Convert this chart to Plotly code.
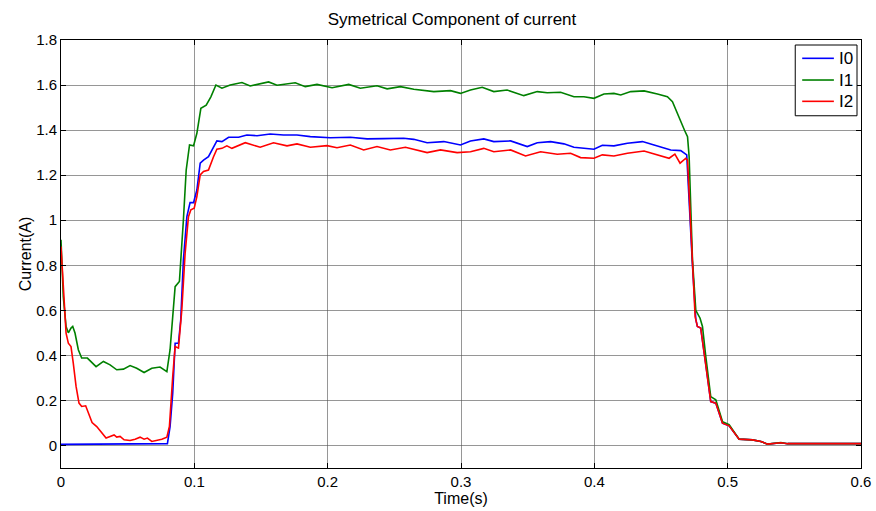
import plotly.graph_objects as go

# Sampled time (s) and current (A) for each symmetrical component
t_i0 = [0.0, 0.02, 0.04, 0.06, 0.0798, 0.0818, 0.0838, 0.0856, 0.0881, 0.0898, 0.0918,
        0.0944, 0.0968, 0.0994, 0.1019, 0.1044, 0.1069, 0.1106, 0.1144, 0.1169, 0.1207,
        0.1257, 0.1332, 0.1394, 0.147, 0.1569, 0.1669, 0.177, 0.187, 0.202, 0.217,
        0.2296, 0.242, 0.257, 0.2646, 0.2746, 0.2871, 0.2996, 0.3071, 0.3171, 0.3246,
        0.3372, 0.3497, 0.3572, 0.3672, 0.3772, 0.3847, 0.3997, 0.406, 0.4147, 0.4248,
        0.4361, 0.4448, 0.4573, 0.4648, 0.4693, 0.4736, 0.4761, 0.4773, 0.4798, 0.4836,
        0.4873, 0.4911, 0.4961, 0.5011, 0.5086, 0.5186, 0.5249, 0.5299, 0.5399, 0.5449,
        0.6]
i0 = [0.005, 0.006, 0.007, 0.007, 0.008, 0.084, 0.232, 0.454, 0.454, 0.557, 0.824,
      1.016, 1.078, 1.078, 1.134, 1.253, 1.267, 1.282, 1.327, 1.352, 1.349,
      1.368, 1.368, 1.378, 1.375, 1.383, 1.378, 1.378, 1.371, 1.366, 1.368,
      1.361, 1.362, 1.364, 1.359, 1.344, 1.349, 1.334, 1.352, 1.361, 1.349,
      1.352, 1.327, 1.344, 1.349, 1.339, 1.324, 1.315, 1.333, 1.330, 1.342,
      1.349, 1.334, 1.312, 1.309, 1.290, 0.80, 0.56, 0.528, 0.521, 0.36,
      0.195, 0.188, 0.099, 0.087, 0.028, 0.025, 0.018, 0.006, 0.012, 0.008,
      0.008]

t_i1 = [0.0, 0.0017, 0.0038, 0.0055, 0.0075, 0.0088, 0.0105, 0.013, 0.0155, 0.0198,
        0.0263, 0.0318, 0.0368, 0.0418, 0.0468, 0.0518, 0.0568, 0.0623, 0.0681, 0.0743,
        0.0794, 0.0818, 0.0856, 0.0888, 0.0918, 0.0939, 0.0964, 0.0994, 0.1019, 0.1049,
        0.1089, 0.1124, 0.1162, 0.1207, 0.1269, 0.1357, 0.1419, 0.1557, 0.162, 0.172,
        0.1757, 0.1832, 0.192, 0.2033, 0.2158, 0.2245, 0.237, 0.2446, 0.2546, 0.2646,
        0.2796, 0.2921, 0.2996, 0.3071, 0.3159, 0.3246, 0.3346, 0.3471, 0.3572, 0.3647,
        0.3747, 0.3847, 0.3922, 0.3997, 0.4072, 0.4147, 0.4198, 0.4273, 0.4373, 0.4473,
        0.4548, 0.4586, 0.4611, 0.4648, 0.4678, 0.4699, 0.4711, 0.4736, 0.4761, 0.4793,
        0.4811, 0.4836, 0.4873, 0.4911, 0.4961, 0.5011, 0.5086, 0.5186, 0.5249, 0.5299,
        0.5399, 0.5449, 0.6]
i1 = [0.913, 0.661, 0.528, 0.50, 0.521, 0.528, 0.499, 0.425, 0.388, 0.388,
      0.35, 0.373, 0.358, 0.336, 0.339, 0.355, 0.343, 0.324, 0.343, 0.348,
      0.328, 0.425, 0.705, 0.728, 1.001, 1.223, 1.334, 1.33, 1.386, 1.497,
      1.511, 1.548, 1.600, 1.586, 1.600, 1.611, 1.596, 1.614, 1.599, 1.605,
      1.61, 1.593, 1.603, 1.588, 1.603, 1.586, 1.597, 1.583, 1.593, 1.581,
      1.571, 1.575, 1.563, 1.578, 1.590, 1.571, 1.578, 1.553, 1.571, 1.566,
      1.568, 1.548, 1.548, 1.541, 1.560, 1.563, 1.556, 1.571, 1.574, 1.560,
      1.548, 1.526, 1.489, 1.437, 1.397, 1.371, 1.282, 0.824, 0.60, 0.565,
      0.528, 0.395, 0.217, 0.203, 0.106, 0.092, 0.028, 0.025, 0.018, 0.006,
      0.013, 0.008, 0.008]

t_i2 = [0.0, 0.0017, 0.0038, 0.0055, 0.0075, 0.0092, 0.0113, 0.0135, 0.0155, 0.0185,
        0.0213, 0.0233, 0.0268, 0.0305, 0.0338, 0.0368, 0.0398, 0.0418, 0.0443, 0.0473,
        0.0518, 0.0556, 0.0593, 0.0623, 0.0648, 0.0681, 0.0719, 0.0756, 0.0794, 0.0813,
        0.0838, 0.0856, 0.0881, 0.0906, 0.0931, 0.0956, 0.0974, 0.0999, 0.1019, 0.1044,
        0.1069, 0.1106, 0.1144, 0.1169, 0.1207, 0.1244, 0.1282, 0.1382, 0.1494, 0.1594,
        0.1695, 0.177, 0.187, 0.1995, 0.207, 0.217, 0.227, 0.237, 0.247, 0.2583,
        0.2746, 0.2846, 0.2971, 0.3071, 0.3171, 0.3246, 0.3372, 0.3484, 0.3597, 0.3722,
        0.3822, 0.3897, 0.3997, 0.406, 0.4147, 0.4248, 0.4373, 0.4473, 0.4561, 0.4604,
        0.4643, 0.4686, 0.4699, 0.4756, 0.4773, 0.4798, 0.4836, 0.4873, 0.4911, 0.4961,
        0.5011, 0.5086, 0.5186, 0.5249, 0.5299, 0.5399, 0.5449, 0.6]
i2 = [0.883, 0.69, 0.499, 0.454, 0.439, 0.366, 0.262, 0.188, 0.173, 0.176,
      0.136, 0.102, 0.084, 0.055, 0.033, 0.040, 0.047, 0.037, 0.040, 0.025,
      0.022, 0.028, 0.037, 0.028, 0.033, 0.018, 0.022, 0.028, 0.037, 0.084,
      0.306, 0.439, 0.432, 0.602, 0.854, 1.016, 1.046, 1.053, 1.105, 1.201,
      1.216, 1.223, 1.282, 1.315, 1.319, 1.330, 1.319, 1.344, 1.324, 1.344,
      1.330, 1.339, 1.324, 1.331, 1.322, 1.334, 1.312, 1.327, 1.312, 1.324,
      1.300, 1.312, 1.300, 1.304, 1.319, 1.304, 1.312, 1.285, 1.304, 1.293,
      1.297, 1.278, 1.275, 1.290, 1.285, 1.297, 1.307, 1.290, 1.275, 1.293,
      1.253, 1.275, 1.267, 0.572, 0.528, 0.521, 0.36, 0.195, 0.188, 0.099,
      0.087, 0.028, 0.025, 0.018, 0.006, 0.012, 0.008, 0.008]

names = ["I0", "I1", "I2"]
colors = ["#0000ff", "#008000", "#ff0000"]
times = [t_i0, t_i1, t_i2]
values = [i0, i1, i2]

FONT = "Liberation Sans, Arial, sans-serif"

fig = go.Figure()
for name, t, v, color in zip(names, times, values, colors):
    fig.add_trace(go.Scatter(x=t, y=v, mode="lines", name=name, showlegend=False,
                             line=dict(color=color, width=1.6)))

axis_common = dict(
    showline=True, linecolor="black", linewidth=1, mirror="ticks",
    ticks="inside", ticklen=5, tickcolor="black", automargin=False,
    showgrid=True, gridcolor="rgba(80,80,80,0.6)", gridwidth=1,
    zeroline=False, tickfont=dict(family=FONT, size=15, color="black"),
)

fig.update_xaxes(range=[0, 0.6], tick0=0, dtick=0.1,
                 title=dict(text="Time(s)", font=dict(family=FONT, size=16, color="black"),
                            standoff=1),
                 **axis_common)
fig.update_yaxes(range=[-0.1, 1.8], tick0=0, dtick=0.2,
                 title=dict(text="Current(A)", font=dict(family=FONT, size=16, color="black"),
                            standoff=0),
                 **axis_common)

# Boxed legend in the upper-right corner of the axes (paper coordinates)
box_x0, box_x1 = 0.9178, 0.995
box_y0, box_y1 = 0.823, 0.9883
line_x0, line_x1 = 0.9265, 0.9661
text_x = 0.970
row_y = [0.9572, 0.9065, 0.8567]

shapes = [dict(type="rect", xref="paper", yref="paper",
               x0=box_x0, x1=box_x1, y0=box_y0, y1=box_y1,
               line=dict(color="black", width=1), fillcolor="white", layer="above")]
annotations = []
for name, color, y in zip(names, colors, row_y):
    shapes.append(dict(type="line", xref="paper", yref="paper",
                       x0=line_x0, x1=line_x1, y0=y, y1=y,
                       line=dict(color=color, width=1.6), layer="above"))
    annotations.append(dict(text=name, xref="paper", yref="paper", x=text_x, y=y,
                            xanchor="left", yanchor="middle", showarrow=False,
                            font=dict(family=FONT, size=17, color="black")))

fig.update_layout(
    width=876, height=511,
    margin=dict(l=61, r=15, t=40, b=43),
    paper_bgcolor="white", plot_bgcolor="white",
    title=dict(text="Symetrical Component of current", x=0.516, xanchor="center",
               y=0.962, yanchor="middle",
               font=dict(family=FONT, size=17, color="black")),
    shapes=shapes,
    annotations=annotations,
    showlegend=False,
)

fig.write_html("out.html")
